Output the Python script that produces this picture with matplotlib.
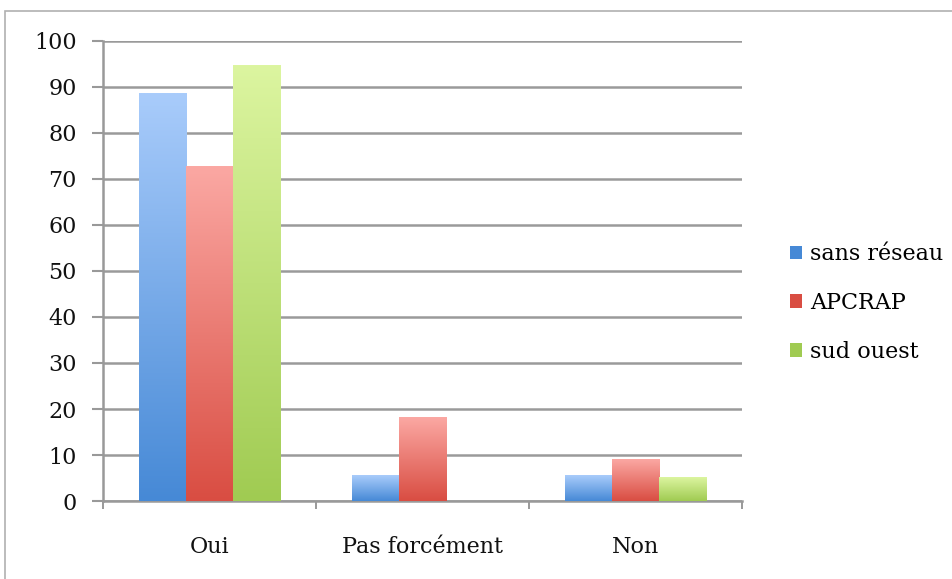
import matplotlib
matplotlib.use("Agg")
import matplotlib.pyplot as plt
import numpy as np
from matplotlib.colors import LinearSegmentedColormap
from matplotlib.patches import Rectangle

# data
categories = ["Oui", "Pas forcément", "Non"]
series = ["sans réseau", "APCRAP", "sud ouest"]
sans_reseau = [88.5, 5.6, 5.6]
apcrap = [72.7, 18.2, 9.1]
sud_ouest = [94.7, 0, 5.2]
yticks = [0, 10, 20, 30, 40, 50, 60, 70, 80, 90, 100]

# (top colour, bottom colour) for each series
colours = [("#a9ccfb", "#4689d6"), ("#fba8a3", "#d94d42"), ("#dcf5a0", "#a0cb52")]

plt.rcParams['font.family'] = ['DejaVu Serif']

fig = plt.figure(figsize=(9.53, 5.79), dpi=100)
fig.patches.append(Rectangle((5/953, -0.1), 1.2, 1 - 11/579 + 0.1, transform=fig.transFigure,
                             fill=False, edgecolor="#b0b0b0", lw=1.2))
ax = fig.add_axes([103/953, 1 - 501/579, 639/953, 460/579])

width = 0.222
grad = np.linspace(1, 0, 256).reshape(-1, 1)
for i, vals in enumerate([sans_reseau, apcrap, sud_ouest]):
    cmap = LinearSegmentedColormap.from_list("c%d" % i, [colours[i][1], colours[i][0]])
    for j, v in enumerate(vals):
        if v <= 0:
            continue
        x0 = j + (i - 1) * width - width / 2
        ax.imshow(grad, extent=[x0, x0 + width, 0, v], aspect='auto', cmap=cmap,
                  origin='upper', zorder=3, interpolation='bilinear')

ax.set_xlim(-0.5, 2.5)
ax.set_ylim(0, 100)
ax.set_yticks(yticks)
ax.yaxis.grid(True, color="#9a9a9a", lw=1.8)
ax.set_axisbelow(True)
ax.set_xticks([-0.5, 0.5, 1.5, 2.5])
ax.set_xticklabels([])
ax.set_xticks([0, 1, 2], minor=True)
ax.set_xticklabels(categories, minor=True, fontsize=16, color="#111111")
ax.tick_params(axis='x', which='minor', length=0, pad=25)
ax.tick_params(axis='x', which='major', length=6, color="#888888", width=1.2)
ax.tick_params(axis='y', length=8, color="#999999", width=1.5, labelsize=16, labelcolor="#111111", pad=11)
for s in ["top", "right"]:
    ax.spines[s].set_visible(False)
ax.spines["left"].set_color("#999999")
ax.spines["left"].set_linewidth(1.8)
ax.spines["bottom"].set_color("#999999")
ax.spines["bottom"].set_linewidth(1.8)

handles = [Rectangle((0, 0), 1, 1, facecolor=c[1]) for c in colours]
fig.legend(handles, series, loc="center left", bbox_to_anchor=(770/953, 1 - 303/579),
           frameon=False, fontsize=16, handlelength=0.55, handleheight=0.55,
           handletextpad=0.35, labelspacing=1.2)

fig.savefig("out.png", dpi=100)
